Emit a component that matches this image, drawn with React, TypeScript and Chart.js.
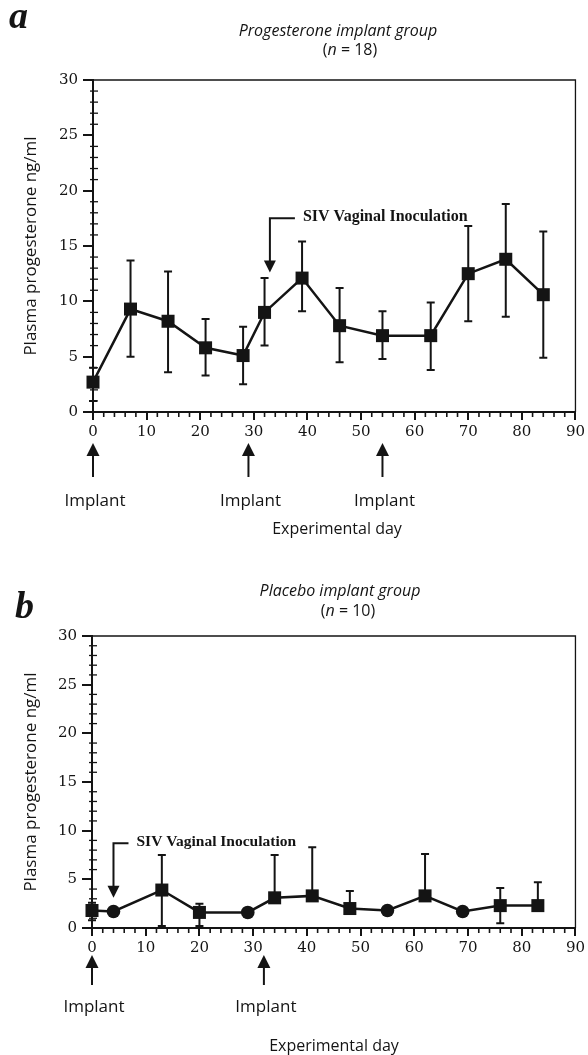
import React, { useEffect, useRef } from 'react';
import { Chart, registerables } from 'chart.js';

Chart.register(...registerables);

// ---------- Data ----------
const daysA = [0, 7, 14, 21, 28, 32, 39, 46, 54, 63, 70, 77, 84];
const meanA = [2.7, 9.3, 8.2, 5.8, 5.1, 9.0, 12.1, 7.8, 6.9, 6.9, 12.5, 13.8, 10.6];
const upperA = [4.0, 13.7, 12.7, 8.4, 7.7, 12.1, 15.4, 11.2, 9.1, 9.9, 16.8, 18.8, 16.3];
const lowerA = [1.0, 5.0, 3.6, 3.3, 2.5, 6.0, 9.1, 4.5, 4.8, 3.8, 8.2, 8.6, 4.9];
const markersA = ['rect', 'rect', 'rect', 'rect', 'rect', 'rect', 'rect', 'rect', 'rect', 'rect', 'rect', 'rect', 'rect'];

const daysB = [0, 4, 13, 20, 29, 34, 41, 48, 55, 62, 69, 76, 83];
const meanB = [1.8, 1.7, 3.9, 1.6, 1.6, 3.1, 3.3, 2.0, 1.8, 3.3, 1.7, 2.3, 2.3];
const upperB = [2.6, 1.7, 7.5, 2.5, 1.6, 7.5, 8.3, 3.8, 1.8, 7.6, 1.7, 4.1, 4.7];
const lowerB = [0.8, 1.7, 0.2, 0.2, 1.6, 3.1, 3.3, 2.0, 1.8, 3.3, 1.7, 0.5, 2.3];
const markersB = ['rect', 'circle', 'rect', 'rect', 'circle', 'rect', 'rect', 'rect', 'circle', 'rect', 'circle', 'rect', 'rect'];

const yTicks = [0, 5, 10, 15, 20, 25, 30];
const xTicks = [0, 10, 20, 30, 40, 50, 60, 70, 80, 90];

const implantDaysA = [0, 29, 54];
const implantDaysB = [0, 32];
const inoculationDayA = 33;
const inoculationDayB = 4;

const INK = '#141414';
const SERIF = '"Liberation Serif", "Times New Roman", serif';
const TICKSERIF = '"DejaVu Serif", "Liberation Serif", serif';
const SANS = '"Open Sans", "DejaVu Sans", sans-serif';

type PanelCfg = {
  letter: string;
  letterX: number;
  letterY: number;
  title: string;
  titleX: number;
  titleY: number;
  nText: string;
  nX: number;
  nY: number;
  days: number[];
  mean: number[];
  upper: number[];
  lower: number[];
  markers: string[];
  implantDays: number[];
  inocDay: number;
  inocTopVal: number;
  inocTipVal: number;
  inocBarLen: number;
  inocFont: number;
  arrowTop: number;
  arrowBottom: number;
  implantTextY: number;
  xTitleY: number;
  xTitleX: number;
  padTop: number;
  padRight: number;
  xAxisHeight: number;
  yAxisWidth: number;
  canvasH: number;
};

const overlayPlugin = {
  id: 'overlay',
  beforeDatasetsDraw(chart: any, _args: any, opts: any) {
    const cfg: PanelCfg = opts.cfg;
    if (!cfg) return;
    const { ctx } = chart;
    const xs = chart.scales.x;
    const ys = chart.scales.y;
    ctx.save();
    ctx.strokeStyle = INK;
    ctx.lineWidth = 2;
    const cap = 4;
    cfg.days.forEach((d, i) => {
      const x = xs.getPixelForValue(d);
      const ym = ys.getPixelForValue(cfg.mean[i]);
      if (cfg.upper[i] > cfg.mean[i]) {
        const yu = ys.getPixelForValue(cfg.upper[i]);
        ctx.beginPath();
        ctx.moveTo(x, ym);
        ctx.lineTo(x, yu);
        ctx.moveTo(x - cap, yu);
        ctx.lineTo(x + cap, yu);
        ctx.stroke();
      }
      if (cfg.lower[i] < cfg.mean[i]) {
        const yl = ys.getPixelForValue(cfg.lower[i]);
        ctx.beginPath();
        ctx.moveTo(x, ym);
        ctx.lineTo(x, yl);
        ctx.moveTo(x - cap, yl);
        ctx.lineTo(x + cap, yl);
        ctx.stroke();
      }
    });
    ctx.restore();
  },
  afterDraw(chart: any, _args: any, opts: any) {
    const cfg: PanelCfg = opts.cfg;
    if (!cfg) return;
    const { ctx, chartArea } = chart;
    const xs = chart.scales.x;
    const ys = chart.scales.y;
    const { left, right, top, bottom } = chartArea;
    ctx.save();
    ctx.strokeStyle = INK;
    ctx.fillStyle = INK;

    // frame (top + right)
    ctx.lineWidth = 1.3;
    ctx.beginPath();
    ctx.moveTo(left, top);
    ctx.lineTo(right, top);
    ctx.lineTo(right, bottom);
    ctx.stroke();

    // minor y ticks
    ctx.lineWidth = 1.3;
    for (let v = 0; v <= 30; v += 1) {
      if (v % 5 === 0) continue;
      const y = ys.getPixelForValue(v);
      ctx.beginPath();
      ctx.moveTo(left - 3, y);
      ctx.lineTo(left + 5, y);
      ctx.stroke();
    }
    // minor x ticks
    ctx.lineWidth = 1.6;
    for (let d = 0; d <= 90; d += 2) {
      if (d % 10 === 0) continue;
      const x = xs.getPixelForValue(d);
      ctx.beginPath();
      ctx.moveTo(x, bottom);
      ctx.lineTo(x, bottom + 5);
      ctx.stroke();
    }

    // letter
    ctx.font = `italic bold 38px ${SERIF}`;
    ctx.textAlign = 'left';
    ctx.textBaseline = 'alphabetic';
    ctx.fillText(cfg.letter, cfg.letterX, cfg.letterY);

    // title
    ctx.font = `italic 16px ${SANS}`;
    ctx.textAlign = 'center';
    ctx.textBaseline = 'middle';
    ctx.fillText(cfg.title, cfg.titleX, cfg.titleY);

    // (n = N)
    const normal = `16px ${SANS}`;
    const ital = `italic 16px ${SANS}`;
    const parts: [string, string][] = [['(', normal], ['n', ital], [' = ' + cfg.nText + ')', normal]];
    let total = 0;
    parts.forEach(([t, f]) => { ctx.font = f; total += ctx.measureText(t).width; });
    let px = cfg.nX - total / 2;
    ctx.textAlign = 'left';
    parts.forEach(([t, f]) => { ctx.font = f; ctx.fillText(t, px, cfg.nY); px += ctx.measureText(t).width; });

    // y axis title
    ctx.save();
    ctx.translate(31, (top + bottom) / 2);
    ctx.rotate(-Math.PI / 2);
    ctx.font = `17px ${SANS}`;
    ctx.textAlign = 'center';
    ctx.textBaseline = 'middle';
    ctx.fillText('Plasma progesterone ng/ml', 0, 0);
    ctx.restore();

    // inoculation annotation
    const ix = xs.getPixelForValue(cfg.inocDay);
    const iy = ys.getPixelForValue(cfg.inocTopVal);
    const tip = ys.getPixelForValue(cfg.inocTipVal);
    ctx.lineWidth = 2;
    ctx.beginPath();
    ctx.moveTo(ix + cfg.inocBarLen, iy);
    ctx.lineTo(ix, iy);
    ctx.lineTo(ix, tip - 10);
    ctx.stroke();
    ctx.beginPath();
    ctx.moveTo(ix - 6, tip - 12);
    ctx.lineTo(ix + 6, tip - 12);
    ctx.lineTo(ix, tip);
    ctx.closePath();
    ctx.fill();
    ctx.font = `bold ${cfg.inocFont}px ${SERIF}`;
    ctx.textAlign = 'left';
    ctx.textBaseline = 'middle';
    ctx.fillText('SIV Vaginal Inoculation', ix + cfg.inocBarLen + 8, iy - 1);

    // implant arrows
    cfg.implantDays.forEach((d) => {
      const x = xs.getPixelForValue(d);
      ctx.lineWidth = 2;
      ctx.beginPath();
      ctx.moveTo(x, cfg.arrowBottom);
      ctx.lineTo(x, cfg.arrowTop + 10);
      ctx.stroke();
      ctx.beginPath();
      ctx.moveTo(x - 6.5, cfg.arrowTop + 13);
      ctx.lineTo(x + 6.5, cfg.arrowTop + 13);
      ctx.lineTo(x, cfg.arrowTop);
      ctx.closePath();
      ctx.fill();
      ctx.font = `17px ${SANS}`;
      ctx.textAlign = 'center';
      ctx.textBaseline = 'middle';
      ctx.fillText('Implant', x + 2, cfg.implantTextY);
    });

    // x axis title
    ctx.font = `16px ${SANS}`;
    ctx.textAlign = 'center';
    ctx.textBaseline = 'middle';
    ctx.fillText('Experimental day', cfg.xTitleX, cfg.xTitleY);

    ctx.restore();
  },
};

function buildChart(canvas: HTMLCanvasElement, cfg: PanelCfg) {
  const pts = cfg.days.map((d, i) => ({ x: d, y: cfg.mean[i] }));
  const radii = cfg.markers.map((m) => (m === 'circle' ? 6.8 : 9.2));
  return new Chart(canvas, {
    type: 'line',
    data: {
      datasets: [
        {
          data: pts,
          borderColor: INK,
          borderWidth: 2.5,
          backgroundColor: INK,
          pointStyle: cfg.markers as any,
          pointRadius: radii,
          pointBackgroundColor: INK,
          pointBorderColor: INK,
          pointBorderWidth: 0,
          tension: 0,
          clip: false as any,
        },
      ],
    },
    options: {
      animation: false,
      responsive: false,
      devicePixelRatio: 1,
      events: [],
      layout: { padding: { top: cfg.padTop, right: cfg.padRight, left: 0, bottom: 0 } },
      plugins: {
        legend: { display: false },
        tooltip: { enabled: false },
        title: { display: false },
        overlay: { cfg },
      } as any,
      scales: {
        x: {
          type: 'linear',
          min: 0,
          max: 90,
          afterFit: (s: any) => { s.height = cfg.xAxisHeight; },
          afterBuildTicks: (s: any) => { s.ticks = xTicks.map((v) => ({ value: v })); },
          ticks: {
            color: INK,
            font: { family: TICKSERIF, size: 15 },
            padding: 3,
            maxRotation: 0,
            autoSkip: false,
          },
          grid: {
            drawOnChartArea: false,
            drawTicks: true,
            tickLength: 8,
            color: INK,
            lineWidth: 2,
          },
          border: { display: true, color: INK, width: 2 },
        },
        y: {
          type: 'linear',
          min: 0,
          max: 30,
          afterFit: (s: any) => { s.width = cfg.yAxisWidth; },
          afterBuildTicks: (s: any) => { s.ticks = yTicks.map((v) => ({ value: v })); },
          ticks: {
            color: INK,
            font: { family: TICKSERIF, size: 15 },
            padding: 5,
            autoSkip: false,
          },
          grid: {
            drawOnChartArea: false,
            drawTicks: true,
            tickLength: 10,
            color: INK,
            lineWidth: 2,
          },
          border: { display: true, color: INK, width: 2 },
        },
      },
    },
    plugins: [overlayPlugin as any],
  });
}

const cfgA: PanelCfg = {
  letter: 'a', letterX: 9, letterY: 28,
  title: 'Progesterone implant group', titleX: 338, titleY: 31,
  nText: '18', nX: 350, nY: 50,
  days: daysA, mean: meanA, upper: upperA, lower: lowerA, markers: markersA,
  implantDays: implantDaysA,
  inocDay: inoculationDayA, inocTopVal: 17.5, inocTipVal: 12.6, inocBarLen: 25, inocFont: 16,
  arrowTop: 443, arrowBottom: 477, implantTextY: 501,
  xTitleX: 337, xTitleY: 529,
  padTop: 80, padRight: 8, xAxisHeight: 128, yAxisWidth: 93, canvasH: 540,
};

const cfgB: PanelCfg = {
  letter: 'b', letterX: 15, letterY: 78,
  title: 'Placebo implant group', titleX: 340, titleY: 51,
  nText: '10', nX: 348, nY: 71,
  days: daysB, mean: meanB, upper: upperB, lower: lowerB, markers: markersB,
  implantDays: implantDaysB,
  inocDay: inoculationDayB, inocTopVal: 8.7, inocTipVal: 3.1, inocBarLen: 15, inocFont: 15.5,
  arrowTop: 415, arrowBottom: 445, implantTextY: 467,
  xTitleX: 334, xTitleY: 506,
  padTop: 96, padRight: 6, xAxisHeight: 127, yAxisWidth: 92, canvasH: 515,
};

export default function App() {
  const refA = useRef<HTMLCanvasElement>(null);
  const refB = useRef<HTMLCanvasElement>(null);
  useEffect(() => {
    const a = buildChart(refA.current!, cfgA);
    const b = buildChart(refB.current!, cfgB);
    return () => { a.destroy(); b.destroy(); };
  }, []);
  return (
    <div style={{ position: 'absolute', left: 0, top: 0, width: 588, height: 1055, background: '#fff', overflow: 'hidden' }}>
      <canvas ref={refA} width={588} height={cfgA.canvasH} style={{ position: 'absolute', left: 0, top: 0, width: 588, height: cfgA.canvasH }} />
      <canvas ref={refB} width={588} height={cfgB.canvasH} style={{ position: 'absolute', left: 0, top: cfgA.canvasH, width: 588, height: cfgB.canvasH }} />
    </div>
  );
}
